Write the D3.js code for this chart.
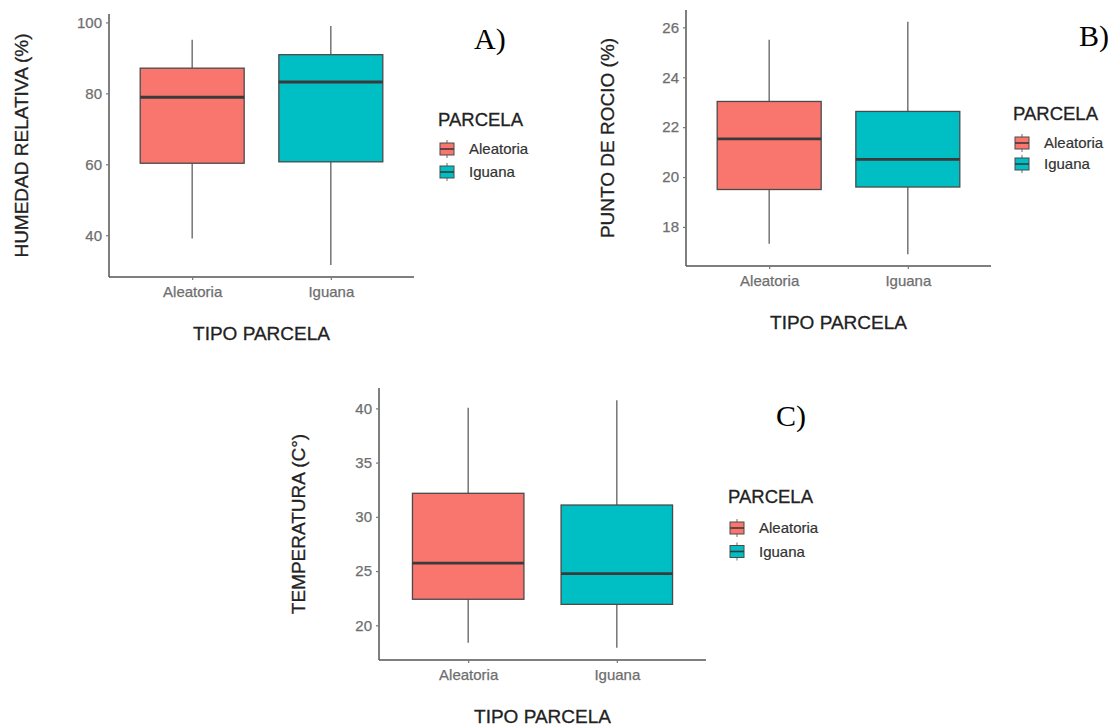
<!DOCTYPE html>
<html>
<head>
<meta charset="UTF-8">
<script src="https://cdn.jsdelivr.net/npm/d3@7"></script>
<style>
  body { margin: 0; background: white; }
  svg { display: block; font-family: "Liberation Sans", Arial, sans-serif; }
</style>
</head>
<body>
<div id="chart"></div>
<script>
// categories and colours
const categories = ["Aleatoria", "Iguana"];
const fillColors = ["#F8766D", "#00BFC4"];

// box stats per category: [lower whisker, q1, median, q3, upper whisker]
const humedadStats = [[39.1, 60.3, 78.9, 87.1, 95.1], [31.6, 60.7, 83.2, 90.9, 99.0]];
const rocioStats = [[17.33, 19.5, 21.53, 23.03, 25.5], [16.9, 19.6, 20.71, 22.63, 26.23]];
const tempStats = [[18.4, 22.4, 25.74, 32.17, 40.05], [17.94, 21.93, 24.76, 31.09, 40.74]];

const humedadTicks = [40, 60, 80, 100];
const rocioTicks = [18, 20, 22, 24, 26];
const tempTicks = [20, 25, 30, 35, 40];

const W = 1112, H = 728;

const svg = d3.select('#chart').append('svg')
  .attr('width', W)
  .attr('height', H);

// panel frames (pixels)
const panels = [
  { stats: humedadStats, ticks: humedadTicks, yTitle: 'HUMEDAD RELATIVA (%)', tag: 'A)',
    left: 109, right: 414, top: 14, bottom: 277, yTitleOff: 81,
    legX: 438, legTitleY: 126, legRow1: 149, legGap: 23, tagX: 474, tagY: 49 },
  { stats: rocioStats, ticks: rocioTicks, yTitle: 'PUNTO DE ROCIO (%)', tag: 'B)',
    left: 686, right: 991, top: 10, bottom: 266, yTitleOff: 72,
    legX: 1013, legTitleY: 120, legRow1: 143, legGap: 21, tagX: 1079, tagY: 46 },
  { stats: tempStats, ticks: tempTicks, yTitle: 'TEMPERATURA (C°)', tag: 'C)',
    left: 379, right: 706, top: 388, bottom: 660, yTitleOff: 74,
    legX: 728, legTitleY: 503, legRow1: 528, legGap: 23.5, tagX: 776, tagY: 426 }
];

function drawPanel(p) {
  const lo = d3.min(p.stats, d => d[0]);
  const hi = d3.max(p.stats, d => d[4]);
  const pad = (hi - lo) * 0.05;

  const y = d3.scaleLinear().domain([lo - pad, hi + pad]).range([p.bottom, p.top]);
  const x = d3.scalePoint().domain(categories).range([p.left, p.right]).padding(0.6);
  const boxW = x.step() * 0.75;

  const g = svg.append('g');

  // boxes
  p.stats.forEach((s, i) => {
    const cx = x(categories[i]);
    g.append('line')
      .attr('x1', cx).attr('x2', cx)
      .attr('y1', y(s[4])).attr('y2', y(s[3]))
      .attr('stroke', '#6a6a6a').attr('stroke-width', 1.4);
    g.append('line')
      .attr('x1', cx).attr('x2', cx)
      .attr('y1', y(s[1])).attr('y2', y(s[0]))
      .attr('stroke', '#6a6a6a').attr('stroke-width', 1.4);
    g.append('rect')
      .attr('x', cx - boxW / 2)
      .attr('y', y(s[3]))
      .attr('width', boxW)
      .attr('height', y(s[1]) - y(s[3]))
      .attr('fill', fillColors[i])
      .attr('stroke', '#4a4a4a')
      .attr('stroke-width', 1.3);
    g.append('line')
      .attr('x1', cx - boxW / 2).attr('x2', cx + boxW / 2)
      .attr('y1', y(s[2])).attr('y2', y(s[2]))
      .attr('stroke', '#3a3a3a').attr('stroke-width', 2.8);
  });

  // axes
  const yAxis = g.append('g')
    .attr('transform', `translate(${p.left},0)`)
    .call(d3.axisLeft(y).tickValues(p.ticks).tickSize(3).tickPadding(4).tickFormat(d3.format('d')));
  yAxis.select('.domain').attr('d', `M0,${p.top}V${p.bottom}`);

  const xAxis = g.append('g')
    .attr('transform', `translate(0,${p.bottom})`)
    .call(d3.axisBottom(x).tickSize(3).tickPadding(6));
  xAxis.select('.domain').attr('d', `M${p.left},0H${p.right}`);

  g.selectAll('.domain').attr('stroke', '#555').attr('stroke-width', 1.5);
  g.selectAll('.tick line').attr('stroke', '#777').attr('stroke-width', 1.2);
  g.selectAll('.tick text')
    .attr('fill', '#6e6e6e')
    .attr('stroke', '#6e6e6e')
    .attr('stroke-width', 0.25)
    .style('font-size', '15px')
    .style('font-family', '"Liberation Sans", Arial, sans-serif');

  // axis titles
  g.append('text')
    .attr('x', (p.left + p.right) / 2)
    .attr('y', p.bottom + 63)
    .attr('text-anchor', 'middle')
    .attr('fill', '#222')
    .attr('stroke', '#222').attr('stroke-width', 0.3)
    .style('font-size', '19px')
    .text('TIPO PARCELA');

  g.append('text')
    .attr('transform', `translate(${p.left - p.yTitleOff},${(p.top + p.bottom) / 2}) rotate(-90)`)
    .attr('text-anchor', 'middle')
    .attr('fill', '#222')
    .attr('stroke', '#222').attr('stroke-width', 0.3)
    .style('font-size', '19px')
    .text(p.yTitle);

  // legend
  const leg = g.append('g');
  leg.append('text')
    .attr('x', p.legX)
    .attr('y', p.legTitleY)
    .attr('fill', '#222')
    .attr('stroke', '#222').attr('stroke-width', 0.3)
    .style('font-size', '18.5px')
    .text('PARCELA');

  categories.forEach((c, i) => {
    const cy = p.legRow1 + i * p.legGap;
    const kx = p.legX + 2;
    leg.append('line')
      .attr('x1', kx + 7).attr('x2', kx + 7)
      .attr('y1', cy - 9).attr('y2', cy + 9)
      .attr('stroke', '#6a6a6a').attr('stroke-width', 1);
    leg.append('rect')
      .attr('x', kx).attr('y', cy - 6)
      .attr('width', 14).attr('height', 12)
      .attr('fill', fillColors[i])
      .attr('stroke', '#4a4a4a').attr('stroke-width', 1);
    leg.append('line')
      .attr('x1', kx).attr('x2', kx + 14)
      .attr('y1', cy).attr('y2', cy)
      .attr('stroke', '#3a3a3a').attr('stroke-width', 1.6);
    leg.append('text')
      .attr('x', p.legX + 31)
      .attr('y', cy)
      .attr('dy', '0.35em')
      .attr('fill', '#333')
      .attr('stroke', '#333').attr('stroke-width', 0.2)
      .style('font-size', '15px')
      .text(c);
  });

  // panel tag
  g.append('text')
    .attr('x', p.tagX)
    .attr('y', p.tagY)
    .attr('fill', '#000')
    .style('font-family', '"Liberation Serif", "Times New Roman", serif')
    .style('font-size', '30px')
    .text(p.tag);
}

panels.forEach(drawPanel);
</script>
</body>
</html>
